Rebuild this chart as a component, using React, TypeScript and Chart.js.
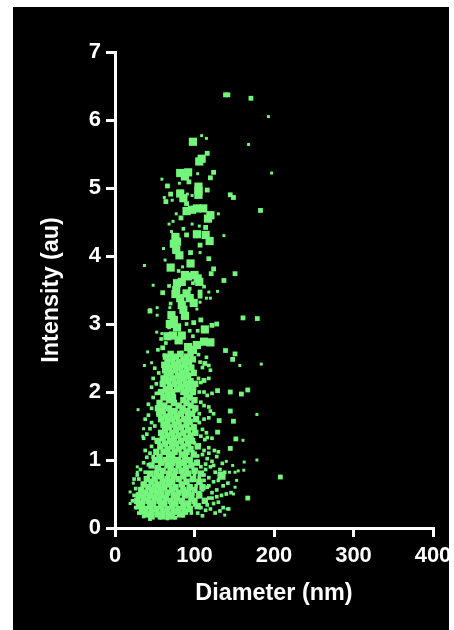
import React, { useEffect, useRef } from "react";
import { Chart, registerables } from "chart.js";

Chart.register(...registerables);

type P = [number, number];

const xTicks = [0, 100, 200, 300, 400];
const yTicks = [0, 1, 2, 3, 4, 5, 6, 7];
const xTitle = "Diameter (nm)";
const yTitle = "Intensity (au)";

const largeParticles: P[] = [
  [98, 5.68], [106, 5.39], [109, 5.43], [82, 5.22], [92, 5.23], [88, 5.17], [105, 5.02], [105, 4.9], [105, 4.96], [82, 4.92], [86, 4.85], [120, 4.6], [117, 4.55],
  [103, 4.7], [90, 4.66], [111, 4.7], [97, 4.68], [103, 4.32], [114, 4.31], [119, 4.22], [78, 4.21], [77, 4.09], [81, 4.01], [74, 4.18],
  [95, 3.89], [70, 3.83], [88, 3.72], [92, 3.7], [104, 3.67], [100, 3.72], [78, 3.6], [77, 3.5], [84, 3.62], [90, 3.45], [84, 3.28], [99, 3.31],
  [86, 3.21], [74, 3.06], [113, 2.92], [73, 2.83], [84, 2.83], [120, 2.73], [112, 2.74], [92, 2.66], [103, 2.69],
  [71, 3.13], [69, 3.0], [82, 3.38], [94, 3.38], [80, 2.76], [134, 0.77], [106, 3.62], [76, 3.44], [88, 3.12], [78, 2.95], [66, 2.82], [98, 2.62], [76, 4.28],
];

const mediumParticles: P[] = [
  [139, 6.37], [142, 6.37], [171, 6.32], [116, 5.51], [124, 5.23], [120, 5.15], [93, 5.09], [116, 4.97], [66, 5.03],
  [70, 4.91], [64, 4.8], [90, 4.77], [145, 4.9], [149, 4.86], [183, 4.67], [83, 4.56], [114, 4.42], [90, 4.31],
  [107, 4.16], [95, 4.05], [118, 3.96], [151, 3.74], [137, 3.64], [124, 3.81], [121, 3.74], [60, 3.46], [107, 3.47],
  [107, 3.41], [128, 3.0], [161, 3.09], [179, 3.08], [131, 1.58], [149, 1.57], [148, 2.48], [129, 2.02], [167, 2.03],
  [167, 0.44], [208, 0.75], [145, 1.17], [152, 1.31], [129, 1.41], [145, 2.0], [159, 1.97], [145, 1.72], [139, 2.61],
  [151, 2.56], [60, 2.65], [44, 3.19], [99, 3.02], [108, 3.06], [122, 2.98], [113, 2.42], [112, 2.17], [100, 2.6],
];

const coreRows: [number, number[]][] = [
  [2.56, [70, 82, 95]], [2.52, [64, 77, 90]], [2.48, [72, 86, 98]], [2.44, [66, 80, 93]],
  [2.4, [62, 74, 88]], [2.36, [68, 82, 96]], [2.32, [63, 76, 90]], [2.28, [70, 84, 99]], [2.24, [65, 79, 92]],
  [2.2, [61, 73, 87]], [2.16, [67, 81, 95]], [2.12, [60, 75, 89, 101]], [2.08, [69, 83, 94]], [2.04, [64, 78, 91]],
  [2.0, [58, 72, 86, 98]], [1.96, [66, 90]], [1.92, [61, 73, 94]], [1.88, [68, 86, 100]], [1.84, [56, 74, 90]],
  [1.8, [62, 80, 95]], [1.76, [54, 68, 85, 101]], [1.72, [60, 75, 91]], [1.68, [56, 70, 83, 97]], [1.64, [64, 78, 92]],
  [1.6, [58, 72, 87, 102]], [1.56, [66, 80, 94]], [1.52, [61, 75, 90]], [1.48, [68, 83, 99]], [1.44, [63, 77, 92]],
  [1.4, [58, 72, 86, 101]], [1.36, [66, 80, 95]], [1.32, [60, 74, 89]], [1.28, [54, 69, 83, 97]], [1.24, [63, 77, 92]],
  [1.2, [57, 72, 86, 104]], [1.16, [66, 80, 95]], [1.12, [52, 61, 75, 90]], [1.08, [68, 84, 99]], [1.04, [56, 72, 88]],
  [1.0, [50, 64, 79, 94]], [0.96, [58, 72, 87, 103]], [0.92, [46, 66, 80, 96]], [0.88, [54, 70, 89]], [0.84, [60, 76, 84, 100]],
  [0.8, [44, 52, 68, 92, 108]], [0.76, [58, 74, 86]], [0.72, [40, 50, 66, 80, 98]], [0.68, [46, 60, 72, 90, 106]], [0.64, [36, 54, 68, 84]],
  [0.6, [42, 50, 62, 76, 94, 110]], [0.56, [33, 46, 58, 72, 86, 100]], [0.52, [38, 52, 66, 80, 92]], [0.48, [30, 44, 58, 74, 88, 106]], [0.44, [36, 50, 64, 78, 96]],
  [0.4, [28, 42, 56, 70, 84, 100, 113]], [0.36, [34, 48, 62, 76, 92]], [0.32, [30, 44, 58, 72, 86, 104]], [0.28, [38, 52, 66, 80, 94]], [0.24, [34, 46, 60, 74, 88]],
  [0.2, [40, 54, 68, 82]], [0.17, [46, 60, 72]],
];

const fringeParticles: P[] = [
  [100, 1.25], [106, 1.22], [113, 1.3], [118, 1.18], [125, 1.14], [130, 1.12], [110, 1.08], [116, 1.02], [122, 0.98],
  [128, 1.05], [135, 0.95], [104, 0.98], [108, 0.9], [114, 0.86], [120, 0.9], [126, 0.82], [132, 0.86], [138, 0.82],
  [100, 0.78], [106, 0.74], [112, 0.7], [118, 0.74], [124, 0.68], [130, 0.7], [136, 0.62], [142, 0.66], [102, 0.62],
  [110, 0.56], [116, 0.6], [122, 0.52], [128, 0.56], [134, 0.48], [140, 0.5], [146, 0.52], [104, 0.46], [112, 0.4],
  [118, 0.44], [124, 0.36], [130, 0.38], [136, 0.3], [143, 0.28], [100, 0.34], [108, 0.3], [114, 0.26], [120, 0.28],
  [126, 0.22], [132, 0.25], [104, 0.22], [96, 0.22], [110, 0.18], [100, 2.3], [105, 2.2], [108, 2.14], [118, 2.2],
  [100, 2.05], [106, 2.0], [112, 2.0], [116, 1.95], [122, 1.98], [100, 1.9], [108, 1.85], [112, 1.8], [118, 1.78],
  [120, 1.72], [124, 1.68], [100, 1.72], [106, 1.68], [112, 1.6], [118, 1.62], [100, 1.5], [106, 1.55], [110, 1.45],
  [115, 1.4], [100, 1.42], [108, 1.35], [116, 1.33], [122, 1.32], [50, 2.35], [55, 2.28], [48, 2.2], [52, 2.12],
  [46, 2.07], [52, 1.98], [48, 1.92], [56, 2.0], [42, 1.82], [46, 1.76], [54, 1.68], [42, 1.66], [38, 1.6], [46, 1.55],
  [50, 1.5], [44, 1.46], [40, 1.38], [48, 1.32], [36, 1.32], [52, 1.28], [46, 1.2], [38, 1.14], [44, 1.1], [40, 1.04],
  [48, 1.05], [36, 0.96], [42, 0.93], [32, 0.86], [28, 0.78], [38, 0.82], [24, 0.72], [30, 0.72], [26, 0.58], [24, 0.48],
  [22, 0.4], [26, 0.3], [30, 0.22], [36, 0.17], [44, 0.13], [56, 0.15], [66, 0.14], [58, 2.78], [62, 2.54], [54, 2.62],
  [107, 2.44], [115, 2.51], [118, 2.39], [120, 2.32], [105, 2.55], [110, 2.36], [64, 2.72], [68, 2.95], [94, 2.9], [98, 2.82],
  [104, 2.9], [90, 3.0], [70, 3.3], [94, 3.52], [68, 3.56], [112, 3.55], [80, 3.78], [98, 3.6], [86, 4.4], [84, 2.58],
  [112, 1.14], [118, 1.1], [104, 1.06], [98, 1.12], [114, 0.94], [112, 0.78], [124, 0.92], [118, 0.62], [106, 0.52], [116, 0.34],
  [122, 0.44], [128, 0.46], [108, 0.66], [102, 0.86], [96, 0.7], [98, 0.5], [92, 0.26], [86, 0.18], [76, 0.15], [52, 0.86],
];

const tinyParticles: P[] = [
  [109, 5.77], [115, 5.73], [193, 6.05], [168, 5.64], [197, 5.22], [59, 5.13], [104, 5.21], [81, 5.07], [62, 4.86],
  [72, 4.82], [91, 4.91], [97, 4.89], [130, 4.62], [77, 4.62], [73, 4.51], [68, 4.47], [97, 4.47], [106, 4.44], [71, 4.36],
  [137, 4.3], [61, 4.11], [107, 4.05], [63, 3.94], [37, 3.86], [85, 3.84], [48, 3.57], [118, 3.47], [129, 3.48], [115, 3.38],
  [120, 3.38], [107, 3.32], [69, 3.24], [103, 3.22], [53, 3.24], [44, 3.21], [53, 3.13], [52.5, 2.88], [59, 2.86], [41, 2.59],
  [157, 2.39], [184, 2.41], [46, 2.43], [37, 2.39], [29, 1.74], [178.5, 1.67], [36, 1.46], [35, 1.35], [161, 1.29],
  [178.5, 1.0], [162.5, 0.97], [162, 0.85], [155, 0.84], [151, 0.82], [148, 0.92], [144, 0.82], [151, 0.6], [149, 0.5],
  [141, 0.28], [138, 0.19], [19, 0.53], [19, 0.36], [23, 0.66], [28, 0.9], [28, 0.82], [153, 0.7], [140, 0.98],
];

const corePoints: P[] = coreRows.flatMap(([y, xs]) => xs.map((x): P => [x, y]));
const toXY = (pts: P[]) => pts.map(([x, y]) => ({ x, y }));
const GREEN = "#74f57c";

export default function App() {
  const ref = useRef<HTMLCanvasElement>(null);
  useEffect(() => {
    const layer = (points: P[], pointRadius: number) => ({
      data: toXY(points),
      pointStyle: "rect" as const,
      pointRadius,
      pointBackgroundColor: GREEN,
      pointBorderWidth: 0,
      showLine: false,
    });
    const chart = new Chart(ref.current!, {
      type: "scatter",
      data: {
        datasets: [
          layer(tinyParticles, 2.1),
          layer(fringeParticles, 2.6),
          layer(corePoints, 4.5),
          layer(mediumParticles, 3.4),
          layer(largeParticles, 5.8),
        ],
      },
      options: {
        animation: false,
        responsive: false,
        events: [],
        layout: { padding: { left: 0, top: 45, right: 67, bottom: 0 } },
        plugins: { legend: { display: false }, tooltip: { enabled: false } },
        scales: {
          x: {
            type: "linear",
            min: 0,
            max: 400,
            afterBuildTicks: (s: any) => { s.ticks = xTicks.map((value) => ({ value })); },
            afterFit: (s: any) => { s.height = 102; },
            border: { color: "#fff", width: 3 },
            grid: { drawOnChartArea: false, color: "#fff", lineWidth: 3, tickLength: 9 },
            ticks: { color: "#fff", padding: 6, maxRotation: 0, font: { family: "Liberation Sans", size: 22, weight: "bold" } },
            title: { display: true, text: xTitle, color: "#fff", padding: { top: 8, bottom: 22 }, font: { family: "Liberation Sans", size: 23.4, weight: "bold" } },
          },
          y: {
            type: "linear",
            min: 0,
            max: 7,
            afterBuildTicks: (s: any) => { s.ticks = yTicks.map((value) => ({ value })); },
            afterFit: (s: any) => { s.width = 102; },
            border: { color: "#fff", width: 3 },
            grid: { drawOnChartArea: false, color: "#fff", lineWidth: 3, tickLength: 9 },
            ticks: { color: "#fff", padding: 5, font: { family: "Liberation Sans", size: 22, weight: "bold" } },
            title: { display: true, text: yTitle, color: "#fff", padding: { top: 25, bottom: 0 }, font: { family: "Liberation Sans", size: 23.4, weight: "bold" } },
          },
        },
      },
    });
    return () => chart.destroy();
  }, []);
  return (
    <div style={{ position: "absolute", left: 13, top: 7, width: 436, height: 623, overflow: "hidden", background: "#000" }}>
      <canvas ref={ref} width={487} height={623} style={{ display: "block", filter: "blur(0.4px)" }} />
    </div>
  );
}
